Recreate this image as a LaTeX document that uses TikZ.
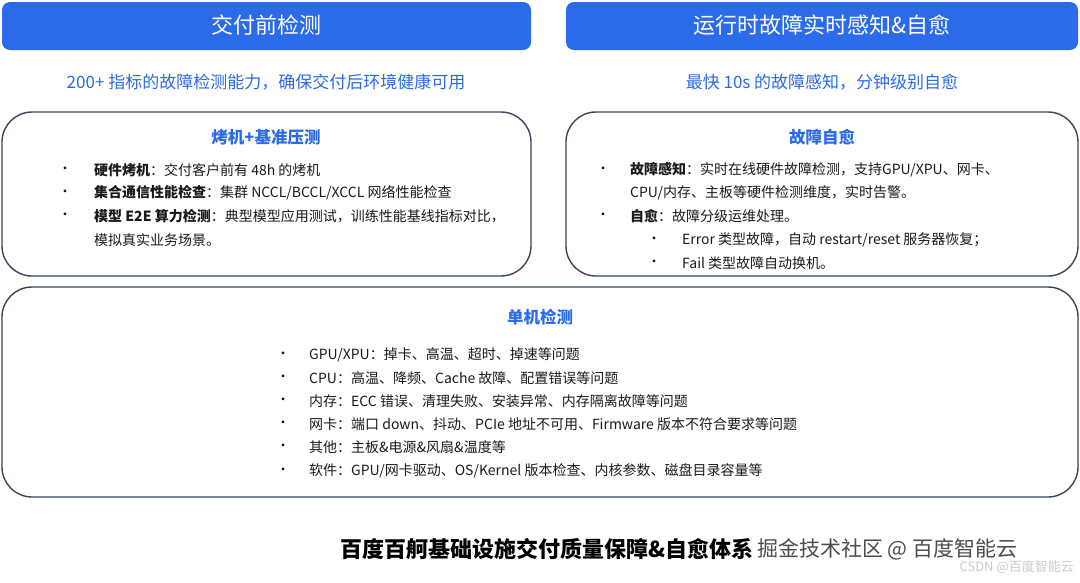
\documentclass[tikz,border=0pt]{standalone}
\usepackage{fontspec}
\setmainfont{Noto Sans CJK SC}
\definecolor{hdr}{HTML}{2B6BEA}
\definecolor{txtblue}{HTML}{2B6BEA}
\definecolor{frame}{HTML}{3A4658}
\definecolor{body}{HTML}{1A1A1A}
\begin{document}
\begin{tikzpicture}[x=1pt,y=-1pt,
  header/.style={fill=hdr,rounded corners=8pt,draw=none},
  panel/.style={draw=frame,line width=1.4pt,rounded corners=30pt},
  hdrtext/.style={text=white,font=\fontsize{22}{26}\selectfont},
  sub/.style={text=txtblue,font=\fontsize{17}{20}\selectfont},
  ptitle/.style={text=txtblue,font=\bfseries\fontsize{16.5}{20}\selectfont},
  item/.style={anchor=west,text=body,font=\fontsize{14}{16}\selectfont,inner sep=0pt},
  dot/.style={anchor=center,text=body,font=\fontsize{13.5}{16}\selectfont,inner sep=0pt}]
\useasboundingbox (0,0) rectangle (1080,582);
\fill[white] (0,0) rectangle (1080,582);
% headers
\filldraw[header] (2,2) rectangle (531,50);
\filldraw[header] (566,2) rectangle (1078,50);
\node[hdrtext] (h1) at (266,25) {交付前检测};
\node[hdrtext] (h2) at (822,25) {运行时故障实时感知\&自愈};
\node[sub] (s1) at (266,82) {200+ 指标的故障检测能力，确保交付后环境健康可用};
\node[sub] (s2) at (822,82) {最快 10s 的故障感知，分钟级别自愈};
% panels
\draw[panel] (2,112) rectangle (531,276);
\draw[panel] (566,112) rectangle (1078,276);
\draw[panel] (2,287) rectangle (1078,497);
% left panel
\node[ptitle] (t1) at (266,137) {烤机+基准压测};
\foreach \y in {170,193,216} \node[dot] at (65,\y) {•};
\node[item] (l1) at (94,170) {\textbf{硬件烤机}：交付客户前有 48h 的烤机};
\node[item] (l2) at (94,193) {\textbf{集合通信性能检查}：集群 NCCL/BCCL/XCCL 网络性能检查};
\node[item] (l3) at (94,216) {\textbf{模型 E2E 算力检测}：典型模型应用测试，训练性能基线指标对比，};
\node[item] (l4) at (94,240) {模拟真实业务场景。};
% right panel
\node[ptitle] (t2) at (822,137) {故障自愈};
\foreach \y in {170,216} \node[dot] at (603,\y) {•};
\node[item] (r1) at (630,170) {\textbf{故障感知}：实时在线硬件故障检测，支持GPU/XPU、网卡、};
\node[item] (r2) at (630,193) {CPU/内存、主板等硬件检测维度，实时告警。};
\node[item] (r3) at (630,216) {\textbf{自愈}：故障分级运维处理。};
\foreach \y in {240,263} \node[dot] at (654,\y) {•};
\node[item] (r4) at (682,240) {Error 类型故障，自动 restart/reset 服务器恢复；};
\node[item] (r5) at (682,263) {Fail 类型故障自动换机。};
% bottom panel
\node[ptitle] (t3) at (540,317) {单机检测};
\foreach \y in {355,378,401,424,447,471} \node[dot] at (283,\y) {•};
\node[item] (b1) at (309,355) {GPU/XPU：掉卡、高温、超时、掉速等问题};
\node[item] (b2) at (309,378) {CPU：高温、降频、Cache 故障、配置错误等问题};
\node[item] (b3) at (309,401) {内存：ECC 错误、清理失败、安装异常、内存隔离故障等问题};
\node[item] (b4) at (309,424) {网卡：端口 down、抖动、PCIe 地址不可用、Firmware 版本不符合要求等问题};
\node[item] (b5) at (309,447) {其他：主板\&电源\&风扇\&温度等};
\node[item] (b6) at (309,471) {软件：GPU/网卡驱动、OS/Kernel 版本检查、内核参数、磁盘目录容量等};
% caption
\node[anchor=west,inner sep=0pt,font=\bfseries\fontsize{22}{26}\selectfont,text=black] (cap) at (340,549) {百度百舸基础设施交付质量保障\&自愈体系};
\node[anchor=west,inner sep=0pt,font=\fontsize{21}{24}\selectfont,text=black!70] (wm1) at (cap.east) {\,掘金技术社区 @ 百度智能云};
\node[anchor=east,inner sep=0pt,font=\fontsize{13}{15}\selectfont,text=black!20] (wm2) at (1074,567) {CSDN @百度智能云};
\end{tikzpicture}
\end{document}
